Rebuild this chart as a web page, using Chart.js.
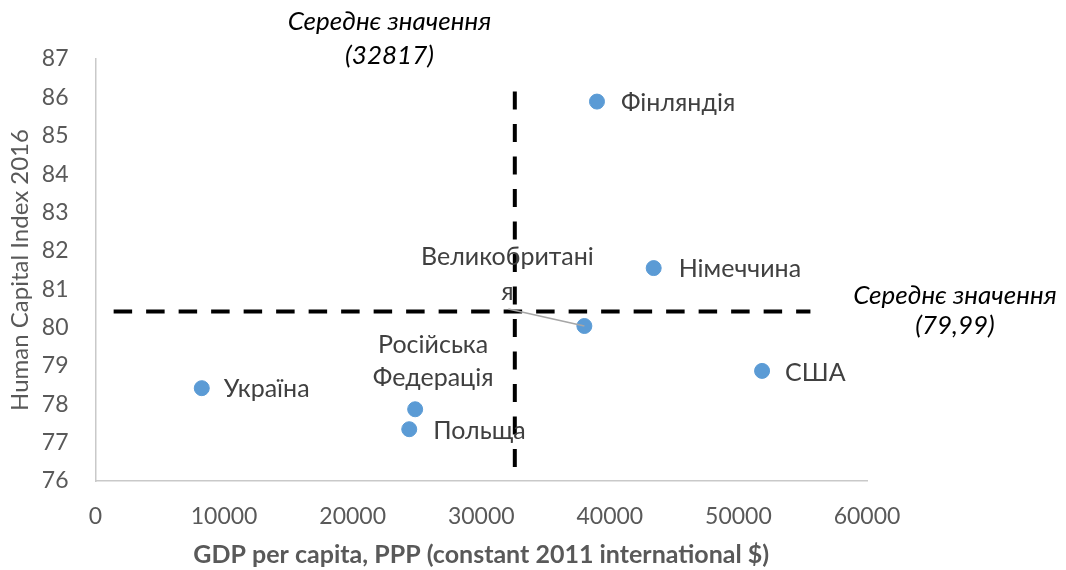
<!DOCTYPE html>
<html>
<head>
<meta charset="utf-8">
<script src="https://cdn.jsdelivr.net/npm/chart.js@4.4.1/dist/chart.umd.min.js"></script>
<style>
  html, body { margin: 0; padding: 0; background: #fff; }
</style>
</head>
<body>
<canvas id="myChart" width="1066" height="570"></canvas>
<script>
// data
const countries = ['Україна', 'Польща', 'Російська Федерація', 'Великобританія', 'Фінляндія', 'Німеччина', 'США'];
const gdp = [8265, 24400, 24860, 38020, 39000, 43410, 51840];
const hci = [78.42, 77.35, 77.87, 80.04, 85.89, 81.55, 78.87];
// how Excel wrapped the labels
const labelLines = [['Україна'], ['Польща'], ['Російська', 'Федерація'], ['Великобритані', 'я'], ['Фінляндія'], ['Німеччина'], ['США']];

const xTicks = [0, 10000, 20000, 30000, 40000, 50000, 60000];
const yTicks = [76, 77, 78, 79, 80, 81, 82, 83, 84, 85, 86, 87];

// mean lines (as drawn in the picture) and their captions
const meanGdpText = ['Середнє значення', '(32817)'];
const meanHciText = ['Середнє значення', '(79,99)'];
const vLineX = [32610, 32610];
const vLineY = [86.15, 76.33];
const hLineX = [1410, 55600];
const hLineY = [80.42, 80.42];

const FONT = 'Lato, "Open Sans", sans-serif';

// label placement relative to each point (px)
const labelPos = [
    {dx: 22, dy: 1, align: 'left'},
    {dx: 24, dy: 2, align: 'left'},
    {dx: 18, dy: -64, align: 'center', gap: 33},
    {dx: -77, dy: -69, align: 'center', gap: 35, leader: [-76, -17]},
    {dx: 24, dy: 1, align: 'left'},
    {dx: 25, dy: 1, align: 'left'},
    {dx: 23, dy: 2, align: 'left'},
];

const labelPlugin = {
    id: 'pointLabels',
    afterDatasetsDraw(chart) {
        const ctx = chart.ctx;
        const meta = chart.getDatasetMeta(2);
        ctx.save();
        ctx.textBaseline = 'middle';
        meta.data.forEach((pt, i) => {
            const o = labelPos[i];
            if (o.leader) {
                ctx.strokeStyle = '#a6a6a6';
                ctx.lineWidth = 1.5;
                ctx.beginPath();
                ctx.moveTo(pt.x + o.leader[0], pt.y + o.leader[1]);
                ctx.lineTo(pt.x, pt.y);
                ctx.stroke();
            }
            ctx.font = '25px ' + FONT;
            ctx.fillStyle = '#404040';
            ctx.textAlign = o.align;
            labelLines[i].forEach((line, j) => {
                ctx.fillText(line, pt.x + o.dx, pt.y + o.dy + j * (o.gap || 0));
            });
        });
        // captions for the mean lines
        const area = chart.chartArea;
        ctx.font = 'italic 26px ' + FONT;
        ctx.fillStyle = '#000';
        ctx.textAlign = 'center';
        ctx.fillText(meanGdpText[0], area.left + 294, 22);
        ctx.fillText(meanGdpText[1], area.left + 294, 56);
        ctx.fillText(meanHciText[0], area.right + 88, 296);
        ctx.fillText(meanHciText[1], area.right + 88, 326);
        ctx.restore();
    }
};

const data = {
    datasets: [
        {
            type: 'line',
            data: vLineX.map((x, i) => ({x: x, y: vLineY[i]})),
            borderColor: '#000',
            borderWidth: 4,
            borderDash: [18, 14.5],
            pointRadius: 0,
            fill: false,
        },
        {
            type: 'line',
            data: hLineX.map((x, i) => ({x: x, y: hLineY[i]})),
            borderColor: '#000',
            borderWidth: 4,
            borderDash: [18.5, 14],
            pointRadius: 0,
            fill: false,
        },
        {
            type: 'scatter',
            label: 'Країни',
            data: gdp.map((x, i) => ({x: x, y: hci[i]})),
            backgroundColor: '#5b9bd5',
            borderColor: '#5b9bd5',
            pointRadius: 7.5,
            pointHoverRadius: 7.5,
        }
    ]
};

const config = {
    type: 'scatter',
    data: data,
    options: {
        responsive: false,
        animation: false,
        devicePixelRatio: 1,
        layout: {padding: {left: 0, top: 59, right: 199, bottom: 0}},
        plugins: {
            legend: {display: false},
            tooltip: {enabled: false},
        },
        scales: {
            x: {
                type: 'linear',
                min: 0,
                max: 60000,
                afterBuildTicks: (s) => { s.ticks = xTicks.map(v => ({value: v})); },
                afterFit: (s) => { s.height = 89; },
                grid: {display: false, drawTicks: false},
                border: {color: '#c9c9c9', width: 1.5},
                ticks: {
                    color: '#595959',
                    padding: 22,
                    font: {family: FONT, size: 23, lineHeight: 1.2},
                    callback: (v) => String(v),
                },
                title: {
                    display: true,
                    text: 'GDP per capita, PPP (constant 2011 international $)',
                    color: '#595959',
                    font: {family: FONT, size: 25, weight: 'bold', lineHeight: 1.2},
                    padding: {top: 0, bottom: 0},
                },
            },
            y: {
                type: 'linear',
                min: 76,
                max: 87,
                afterBuildTicks: (s) => { s.ticks = yTicks.map(v => ({value: v})); },
                afterFit: (s) => { s.width = 95.5; },
                grid: {display: false, drawTicks: false},
                border: {color: '#c9c9c9', width: 1.5},
                ticks: {color: '#595959', padding: 27, font: {family: FONT, size: 23, lineHeight: 1.2}},
                title: {
                    display: true,
                    text: 'Human Capital Index 2016',
                    color: '#595959',
                    font: {family: FONT, size: 24, lineHeight: 1.2},
                    padding: {top: 6, bottom: 0},
                },
            },
        },
    },
    plugins: [labelPlugin],
};

new Chart(document.getElementById('myChart'), config);
</script>
</body>
</html>
